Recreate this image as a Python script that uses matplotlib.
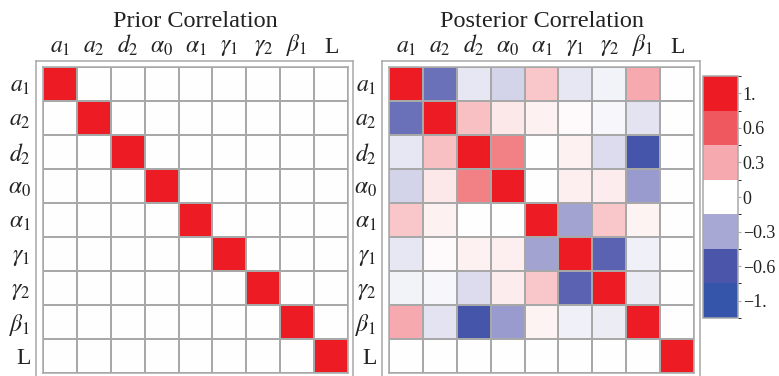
import numpy as np
import matplotlib
matplotlib.use("Agg")
import matplotlib.pyplot as plt
from matplotlib.colors import LinearSegmentedColormap, ListedColormap, BoundaryNorm
from matplotlib.cm import ScalarMappable

plt.rcParams['font.family'] = 'Liberation Serif'
plt.rcParams['mathtext.fontset'] = 'stix'

# parameter names
params = [r'$a_1$', r'$a_2$', r'$d_2$', r'$\alpha_0$', r'$\alpha_1$',
          r'$\gamma_1$', r'$\gamma_2$', r'$\beta_1$', 'L']

# prior: independent parameters
prior = np.eye(9)

# posterior correlations (upper triangle, mirrored below)
row_a1 = [1.0, -0.50, -0.08, -0.15, 0.20, -0.08, -0.04, 0.30, 0.0]
row_a2 = [1.0, 0.22, 0.08, 0.05, 0.02, -0.03, -0.10, 0.0]
row_d2 = [1.0, 0.45, 0.00, 0.05, -0.12, -0.72, 0.0]
row_al0 = [1.0, 0.00, 0.06, 0.07, -0.35, 0.0]
row_al1 = [1.0, -0.32, 0.20, 0.04, 0.0]
row_g1 = [1.0, -0.55, -0.05, 0.0]
row_g2 = [1.0, -0.07, 0.0]
row_b1 = [1.0, 0.0]
row_L = [1.0]

upper_rows = [row_a1, row_a2, row_d2, row_al0, row_al1, row_g1, row_g2, row_b1, row_L]
posterior = np.zeros((9, 9))
for i, r in enumerate(upper_rows):
    posterior[i, i:] = r
posterior = posterior + posterior.T - np.diag(np.diag(posterior))

# legend bands
legend_values = [-1.0, -0.6, -0.3, 0.0, 0.3, 0.6, 1.0]
legend_labels = ['\u22121.', '\u22120.6', '\u22120.3', '0', '0.3', '0.6', '1.']

# colours
c_neg1 = (52/255, 85/255, 170/255)
c_neg06 = (75/255, 85/255, 170/255)
c_neg03 = (168/255, 168/255, 212/255)
c_pos03 = (246/255, 170/255, 175/255)
c_pos06 = (239/255, 88/255, 94/255)
c_pos1 = (237/255, 28/255, 36/255)
cmap = LinearSegmentedColormap.from_list(
    'corr', [(0.0, c_neg1), (0.2, c_neg06), (0.35, c_neg03), (0.5, 'white'),
             (0.65, c_pos03), (0.8, c_pos06), (1.0, c_pos1)])
band_colors = [c_neg1, c_neg06, c_neg03, 'white', c_pos03, c_pos06, c_pos1]

W, H = 779, 376
gray = '#a8a8a8'
text_color = '#222222'


def px(x0, y0, x1, y1):
    return [x0 / W, 1 - y1 / H, (x1 - x0) / W, (y1 - y0) / H]


fig = plt.figure(figsize=(W / 100, H / 100), dpi=100)


def draw_matrix(frame_box, grid_box, data, title):
    frame = fig.add_axes(px(*frame_box))
    frame.set_xticks([])
    frame.set_yticks([])
    frame.set_facecolor('none')
    for s in frame.spines.values():
        s.set_edgecolor(gray)
        s.set_linewidth(1.1)

    ax = fig.add_axes(px(*grid_box))
    ax.pcolormesh(data, cmap=cmap, vmin=-1, vmax=1, edgecolors=gray, linewidth=1.1)
    ax.set_xlim(0, 9)
    ax.set_ylim(9, 0)
    ax.xaxis.tick_top()
    ax.set_xticks(np.arange(9) + 0.5)
    ax.set_xticklabels(params, fontsize=17, color=text_color)
    ax.set_yticks(np.arange(9) + 0.5)
    ax.set_yticklabels(params, fontsize=17, color=text_color)
    ax.tick_params(length=0)
    ax.tick_params(axis='x', pad=6)
    ax.tick_params(axis='y', pad=9)
    for s in ax.spines.values():
        s.set_edgecolor(gray)
        s.set_linewidth(1.1)
    cx = (grid_box[0] + grid_box[2]) / 2
    fig.text(cx / W, 1 - 27 / H, title, ha='center', va='baseline',
             fontsize=17.5, color=text_color)
    return ax


draw_matrix((36, 61, 353, 380), (43, 66.5, 348, 372.5), prior, 'Prior Correlation')
draw_matrix((382, 61, 700, 380), (389, 66.5, 694, 372.5), posterior, 'Posterior Correlation')

# discrete legend
cax = fig.add_axes(px(703, 76, 738, 318))
bounds = [-1.2, -0.8, -0.4, -0.2, 0.2, 0.4, 0.8, 1.2]
sm = ScalarMappable(norm=BoundaryNorm(bounds, 7), cmap=ListedColormap(band_colors))
cb = fig.colorbar(sm, cax=cax, ticks=legend_values, spacing='uniform')
cb.ax.set_yticklabels(legend_labels, fontsize=13, color=text_color)
cb.ax.tick_params(length=2.5, width=0.8, color=gray, pad=1)
cb.outline.set_edgecolor(gray)
cb.outline.set_linewidth(1.1)

fig.savefig('out.png', dpi=100)
